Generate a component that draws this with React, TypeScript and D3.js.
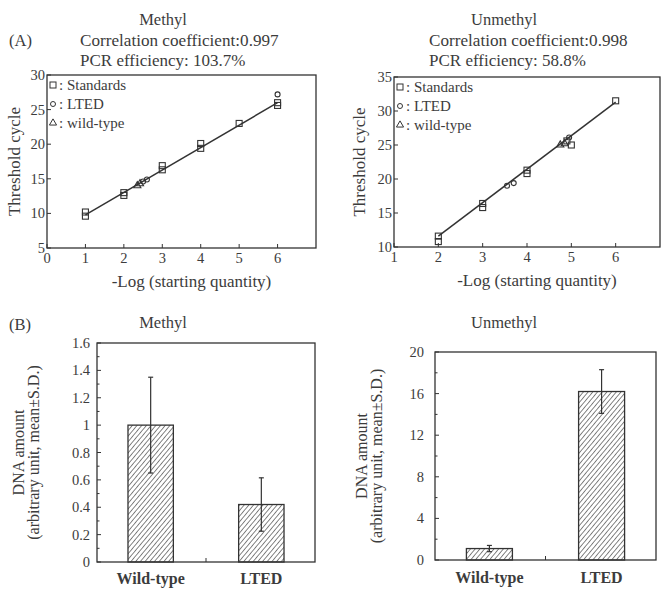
import React from "react";
import * as d3 from "d3";

// ---------- Data ----------
// Panel A (standard curves): [ -log(starting quantity), threshold cycle ]
const methylStandards: [number, number][] = [
  [1, 9.6], [1, 10.2], [2, 12.6], [2, 13.0], [3, 16.3], [3, 16.9],
  [4, 19.4], [4, 20.1], [5, 23.0], [6, 25.6], [6, 26.0],
];
const methylLTED: [number, number][] = [[6, 27.2], [2.5, 14.6], [2.6, 14.9]];
const methylWild: [number, number][] = [[2.35, 14.0], [2.42, 14.3]];
const methylFit: [number, number][] = [[1, 9.8], [6, 26.0]];

const unmethylStandards: [number, number][] = [
  [2, 10.8], [2, 11.6], [3, 15.8], [3, 16.4], [4, 20.8], [4, 21.3],
  [5, 25.0], [4.9, 25.6], [6, 31.5],
];
const unmethylLTED: [number, number][] = [[3.55, 19.0], [3.7, 19.4], [4.95, 26.1]];
const unmethylWild: [number, number][] = [[4.75, 25.0], [4.85, 25.2]];
const unmethylFit: [number, number][] = [[2, 11.6], [6, 31.3]];

const methylXTicks = [0, 1, 2, 3, 4, 5, 6];
const methylYTicks = [5, 10, 15, 20, 25, 30];
const unmethylXTicks = [1, 2, 3, 4, 5, 6];
const unmethylYTicks = [10, 15, 20, 25, 30, 35];

// Panel B (bar charts)
const groups = ["Wild-type", "LTED"];
const methylMeans = [1.0, 0.42];
const methylSD = [0.35, 0.195];
const unmethylMeans = [1.1, 16.2];
const unmethylSD = [0.3, 2.1];
const methylBarTicks = [0, 0.2, 0.4, 0.6, 0.8, 1, 1.2, 1.4, 1.6];
const unmethylBarTicks = [0, 4, 8, 12, 16, 20];

const FONT = "'Liberation Serif', 'DejaVu Serif', serif";
const TXT = "#3c3c3c";
const LN = "#333";

type ScatterProps = {
  x0: number; x1: number; y0: number; y1: number;
  xDomain: [number, number]; yDomain: [number, number];
  xTicks: number[]; yTicks: number[];
  standards: [number, number][]; lted: [number, number][]; wild: [number, number][];
  fit: [number, number][];
  title: string; corr: string; eff: string; textX: number; titleX: number;
  labelX: number;
};

function Scatter(p: ScatterProps) {
  const x = d3.scaleLinear().domain(p.xDomain).range([p.x0, p.x1]);
  const y = d3.scaleLinear().domain(p.yDomain).range([p.y1, p.y0]);
  const line = d3.line<[number, number]>().x((d) => x(d[0])).y((d) => y(d[1]));
  const tri = d3.symbol().type(d3.symbolTriangle).size(22)() as string;
  return (
    <g fontFamily={FONT} fill={TXT}>
      <text x={p.titleX} y={25} fontSize={16.5} textAnchor="middle">{p.title}</text>
      <text x={p.textX} y={46} fontSize={17} textLength={p.corr.length * 6.85} lengthAdjust="spacingAndGlyphs">{p.corr}</text>
      <text x={p.textX} y={66} fontSize={17}>{p.eff}</text>
      <rect x={p.x0} y={p.y0} width={p.x1 - p.x0} height={p.y1 - p.y0} fill="none" stroke={LN} strokeWidth={1.3} />
      {p.xTicks.map((t) => (
        <g key={"x" + t}>
          <line x1={x(t)} x2={x(t)} y1={p.y1} y2={p.y1 - 4} stroke={LN} />
          <text x={x(t)} y={p.y1 + 15} fontSize={14.5} textAnchor="middle">{t}</text>
        </g>
      ))}
      {p.yTicks.map((t) => (
        <g key={"y" + t}>
          <line x1={p.x0} x2={p.x0 + 4} y1={y(t)} y2={y(t)} stroke={LN} />
          <text x={p.x0 - 2} y={y(t) + 5} fontSize={14.5} textAnchor="end">{t}</text>
        </g>
      ))}
      <text transform={`translate(${p.labelX},${(p.y0 + p.y1) / 2}) rotate(-90)`} fontSize={17} textAnchor="middle">Threshold cycle</text>
      <text x={(p.x0 + p.x1) / 2 + 10} y={p.y1 + 39} fontSize={17} textAnchor="middle">-Log (starting quantity)</text>
      {/* legend */}
      <g fontSize={15}>
        <rect x={p.x0 + 3} y={p.y0 + 7} width={6} height={6} fill="none" stroke={LN} />
        <text x={p.x0 + 12} y={p.y0 + 15}>: Standards</text>
        <circle cx={p.x0 + 6} cy={p.y0 + 29} r={2.5} fill="none" stroke={LN} />
        <text x={p.x0 + 12} y={p.y0 + 34}>: LTED</text>
        <path d={tri} transform={`translate(${p.x0 + 6},${p.y0 + 48})`} fill="none" stroke={LN} />
        <text x={p.x0 + 12} y={p.y0 + 53}>: wild-type</text>
      </g>
      <path d={line(p.fit) as string} fill="none" stroke={LN} strokeWidth={1.5} />
      {p.standards.map((d, i) => (
        <rect key={"s" + i} x={x(d[0]) - 3} y={y(d[1]) - 3} width={6} height={6} fill="none" stroke={LN} strokeWidth={1.1} />
      ))}
      {p.lted.map((d, i) => (
        <circle key={"l" + i} cx={x(d[0])} cy={y(d[1])} r={2.5} fill="none" stroke={LN} strokeWidth={1.1} />
      ))}
      {p.wild.map((d, i) => (
        <path key={"w" + i} d={tri} transform={`translate(${x(d[0])},${y(d[1])})`} fill="none" stroke={LN} strokeWidth={1.1} />
      ))}
    </g>
  );
}

type BarProps = {
  x0: number; x1: number; y0: number; y1: number; yMax: number;
  ticks: number[]; means: number[]; sds: number[]; title: string; titleX: number;
  labelX: number; tickGap: number; catY: number;
};

function Bars(p: BarProps) {
  const x = d3.scaleBand<string>().domain(groups).range([p.x0, p.x1]).paddingInner(0.59).paddingOuter(0.28);
  const y = d3.scaleLinear().domain([0, p.yMax]).range([p.y1, p.y0]);
  const minor = p.ticks.slice(0, -1).map((t, i) => (t + p.ticks[i + 1]) / 2);
  const fmt = d3.format("~g");
  const cy = (p.y0 + p.y1) / 2;
  return (
    <g fontFamily={FONT} fill={TXT}>
      <text x={p.titleX} y={328} fontSize={16.5} textAnchor="middle">{p.title}</text>
      <rect x={p.x0} y={p.y0} width={p.x1 - p.x0} height={p.y1 - p.y0} fill="none" stroke={LN} strokeWidth={1.3} />
      {p.ticks.map((t) => (
        <g key={"t" + t}>
          <line x1={p.x0} x2={p.x0 + 4} y1={y(t)} y2={y(t)} stroke={LN} />
          <text x={p.x0 - p.tickGap} y={y(t) + 5} fontSize={14.5} textAnchor="end">{fmt(t)}</text>
        </g>
      ))}
      {minor.map((t) => (
        <line key={"m" + t} x1={p.x0} x2={p.x0 + 2.5} y1={y(t)} y2={y(t)} stroke={LN} />
      ))}
      <line x1={(p.x0 + p.x1) / 2} x2={(p.x0 + p.x1) / 2} y1={p.y1} y2={p.y1 - 4} stroke={LN} />
      <text transform={`translate(${p.labelX},${cy}) rotate(-90)`} fontSize={16} textAnchor="middle">DNA amount</text>
      <text transform={`translate(${p.labelX + 15},${cy}) rotate(-90)`} fontSize={16} textAnchor="middle">(arbitrary unit, mean±S.D.)</text>
      {groups.map((g, i) => {
        const bx = x(g) as number;
        const bw = x.bandwidth();
        const cx = bx + bw / 2;
        return (
          <g key={g}>
            <rect x={bx} y={y(p.means[i])} width={bw} height={p.y1 - y(p.means[i])} fill="url(#hatch)" stroke={LN} strokeWidth={1.3} />
            <line x1={cx} x2={cx} y1={y(p.means[i] + p.sds[i])} y2={y(Math.max(0, p.means[i] - p.sds[i]))} stroke={LN} strokeWidth={1.2} />
            <line x1={cx - 2.5} x2={cx + 2.5} y1={y(p.means[i] + p.sds[i])} y2={y(p.means[i] + p.sds[i])} stroke={LN} strokeWidth={1.2} />
            <line x1={cx - 2.5} x2={cx + 2.5} y1={y(p.means[i] - p.sds[i])} y2={y(p.means[i] - p.sds[i])} stroke={LN} strokeWidth={1.2} />
            <text x={cx} y={p.catY} fontSize={16} fontWeight="bold" textAnchor="middle">{g}</text>
          </g>
        );
      })}
    </g>
  );
}

export default function App() {
  return (
    <svg width={662} height={590} style={{ position: "absolute", left: 0, top: 0, background: "#fff" }}>
      <defs>
        <pattern id="hatch" patternUnits="userSpaceOnUse" width={3.6} height={10} patternTransform="rotate(40)">
          <line x1={0} y1={0} x2={0} y2={10} stroke="#333" strokeWidth={1.2} />
        </pattern>
      </defs>
      <rect width={662} height={590} fill="#fff" />
      <text x={9} y={46} fontFamily={FONT} fontSize={16.5} fill={TXT}>(A)</text>
      <text x={9} y={330} fontFamily={FONT} fontSize={16.5} fill={TXT}>(B)</text>
      <Scatter
        x0={47} x1={316} y0={75} y1={248} xDomain={[0, 7]} yDomain={[5, 30]}
        xTicks={methylXTicks} yTicks={methylYTicks}
        standards={methylStandards} lted={methylLTED} wild={methylWild} fit={methylFit}
        title="Methyl" corr="Correlation coefficient:0.997" eff="PCR efficiency: 103.7%"
        textX={80} titleX={163} labelX={20}
      />
      <Scatter
        x0={394} x1={660} y0={77} y1={247} xDomain={[1, 7]} yDomain={[10, 35]}
        xTicks={unmethylXTicks} yTicks={unmethylYTicks}
        standards={unmethylStandards} lted={unmethylLTED} wild={unmethylWild} fit={unmethylFit}
        title="Unmethyl" corr="Correlation coefficient:0.998" eff="PCR efficiency: 58.8%"
        textX={429} titleX={504} labelX={365}
      />
      <Bars
        x0={97} x1={315} y0={343} y1={562} yMax={1.6} ticks={methylBarTicks}
        means={methylMeans} sds={methylSD} title="Methyl" titleX={163}
        labelX={24} tickGap={7} catY={584}
      />
      <Bars
        x0={435} x1={656} y0={352} y1={560} yMax={20} ticks={unmethylBarTicks}
        means={unmethylMeans} sds={unmethylSD} title="Unmethyl" titleX={504}
        labelX={367} tickGap={11} catY={583}
      />
    </svg>
  );
}
